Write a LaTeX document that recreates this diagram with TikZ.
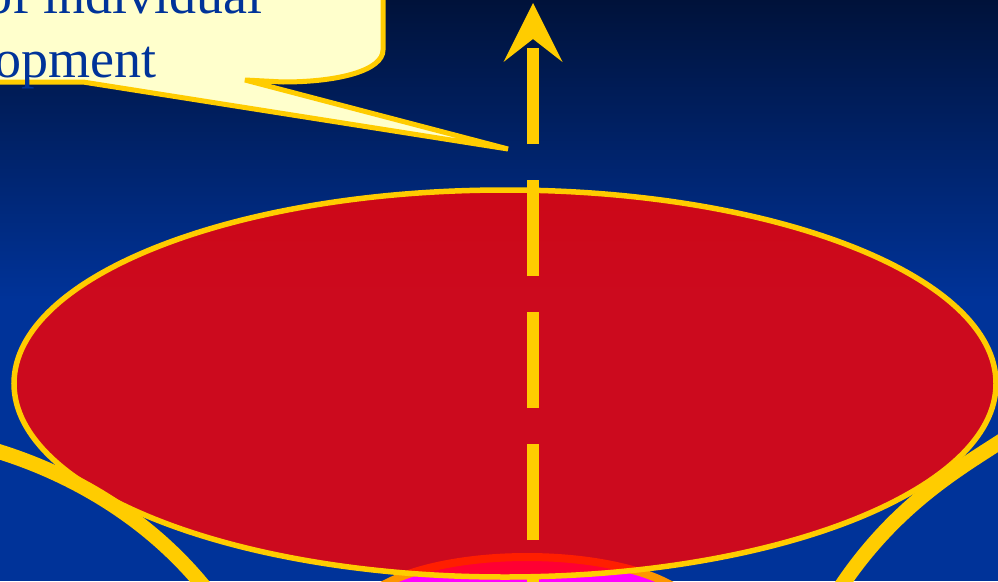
\documentclass[tikz,border=0pt]{standalone}
\usepackage{fontspec}
\setmainfont{Liberation Serif}
\usepackage{xcolor}
\usepackage{tikz}
\usetikzlibrary{arrows.meta,positioning}
\definecolor{bgtop}{RGB}{0,18,58}
\definecolor{bgbot}{RGB}{0,51,153}
\definecolor{gold}{RGB}{255,204,0}
\definecolor{paleyel}{RGB}{255,255,204}
\definecolor{txtblue}{RGB}{0,51,153}
\definecolor{blobred}{RGB}{255,0,0}
\definecolor{lensmag}{RGB}{255,0,255}
\definecolor{lensrim}{RGB}{255,150,0}

\begin{document}
\begin{tikzpicture}[
    x=1pt, y=-1pt,
    rim/.style={draw=gold, line width=5.5pt},
    band/.style={draw=gold, line width=15pt},
    bubble/.style={fill=paleyel, draw=gold, line width=5pt, line join=bevel},
    caption/.style={font=\fontsize{54}{64}\selectfont, text=txtblue, inner sep=0pt},
    axis/.style={draw=gold, line width=12pt, dash pattern=on 96pt off 36pt,
        -{Stealth[length=59pt, width=59pt, inset=23pt, line width=0pt]}},
]
\useasboundingbox (0,0) rectangle (998,581);

% Background
\shade[top color=bgtop, bottom color=bgbot] (0,0) rectangle (998,300);
\fill[bgbot] (0,299) rectangle (998,581);

% Lower lens
\filldraw[fill=lensmag, draw=lensrim, line width=8pt] (527,617) ellipse [x radius=170, y radius=60];

% Main ellipse
\draw[rim, fill=blobred, fill opacity=0.8] (505,383.5) ellipse [x radius=491, y radius=193.5];

% Funnel sides
\draw[band] (-3,451) .. controls (75,475) and (150,520) .. (205,588);
\draw[band] (1003,440) .. controls (960,468) and (895,505) .. (840,588);

% Callout
\draw[bubble] (-20,-20) -- (383,-20) -- (383,50) .. controls (383,70) and (340,82) .. (283,82)
    -- (245,80) -- (508,149) -- (83,82) -- (-20,82) -- cycle;
\node[caption, anchor=base east] (ofind) at (263,13) {of individual};
\node[caption, anchor=base east] (devel) at (157,77) {development};

% Axis
\coordinate (axbot) at (533,672);
\coordinate (axtop) at (533,3);
\draw[axis] (axbot) -- (axtop);

\end{tikzpicture}
\end{document}
